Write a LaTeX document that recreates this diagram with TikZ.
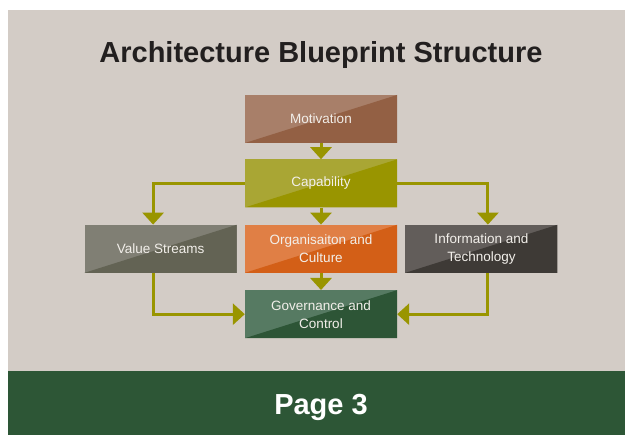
\documentclass[tikz,border=0pt]{standalone}
\usepackage{fontspec}
\setmainfont{Liberation Sans}
\usetikzlibrary{positioning,arrows.meta}
\definecolor{bpbg}{RGB}{211,204,198}
\definecolor{bpband}{RGB}{45,86,54}
\definecolor{bpolive}{RGB}{153,149,0}
\definecolor{bptext}{RGB}{242,239,234}
\definecolor{bpdark}{RGB}{34,31,31}
\definecolor{motA}{RGB}{168,127,105}
\definecolor{motB}{RGB}{147,96,68}
\definecolor{capA}{RGB}{169,166,52}
\definecolor{capB}{RGB}{153,149,0}
\definecolor{valA}{RGB}{128,127,116}
\definecolor{valB}{RGB}{99,99,84}
\definecolor{orgA}{RGB}{224,127,69}
\definecolor{orgB}{RGB}{211,95,23}
\definecolor{infA}{RGB}{98,93,90}
\definecolor{infB}{RGB}{62,58,54}
\definecolor{govA}{RGB}{86,122,98}
\definecolor{govB}{RGB}{45,85,54}
\tikzset{
  bp/.style={font=\fontsize{13.5}{18}\selectfont, text=bptext},
  bpbox/.style 2 args={
    bp, fill=#1, minimum width=152pt, minimum height=48pt, inner sep=0pt,
    align=center,
    path picture={\fill[#2] (path picture bounding box.south west)
      -- (path picture bounding box.north east)
      -- (path picture bounding box.south east) -- cycle;}
  },
  bparr/.style={-{Triangle[length=12pt,width=21pt]}, line width=3pt, draw=bpolive},
  bphead/.style={font=\bfseries\fontsize{29}{33}\selectfont, text=bpdark},
}

\begin{document}
\begin{tikzpicture}[bp, x=1pt, y=-1pt, node distance=8pt]
    \useasboundingbox (0,0) rectangle (625,435);
    \fill[bpbg] (8,10) rectangle (625,371);
    \fill[bpband] (8,371) rectangle (625,435);

    \node[bphead] (title) at (321,55) {Architecture Blueprint Structure};

    \node[bpbox={motA}{motB}] (mot) at (321,119) {Motivation};
    \node[bpbox={capA}{capB}, below=16pt of mot] (cap) {Capability};
    \node[bpbox={orgA}{orgB}, below=17pt of cap] (org) {Organisaiton and\\Culture};
    \node[bpbox={valA}{valB}, left=of org] (val) {Value Streams};
    \node[bpbox={infA}{infB}, right=of org] (inf) {Information and\\Technology};
    \node[bpbox={govA}{govB}, below=17pt of org] (gov) {Governance and\\Control};

    \foreach \a/\b in {mot/cap, cap/org, org/gov}
      \draw[bparr] (\a) -- (\b);

    \draw[bparr] (cap.west) -| ([xshift=-7.5pt]val.north);
    \draw[bparr] (cap.east) -| ([xshift=6.5pt]inf.north);
    \draw[bparr] ([xshift=-7.5pt]val.south) |- (gov.west);
    \draw[bparr] ([xshift=6.5pt]inf.south) |- (gov.east);

    \node[bphead, text=white] (page) at (321,407) {Page 3};
  \end{tikzpicture}
\end{document}
